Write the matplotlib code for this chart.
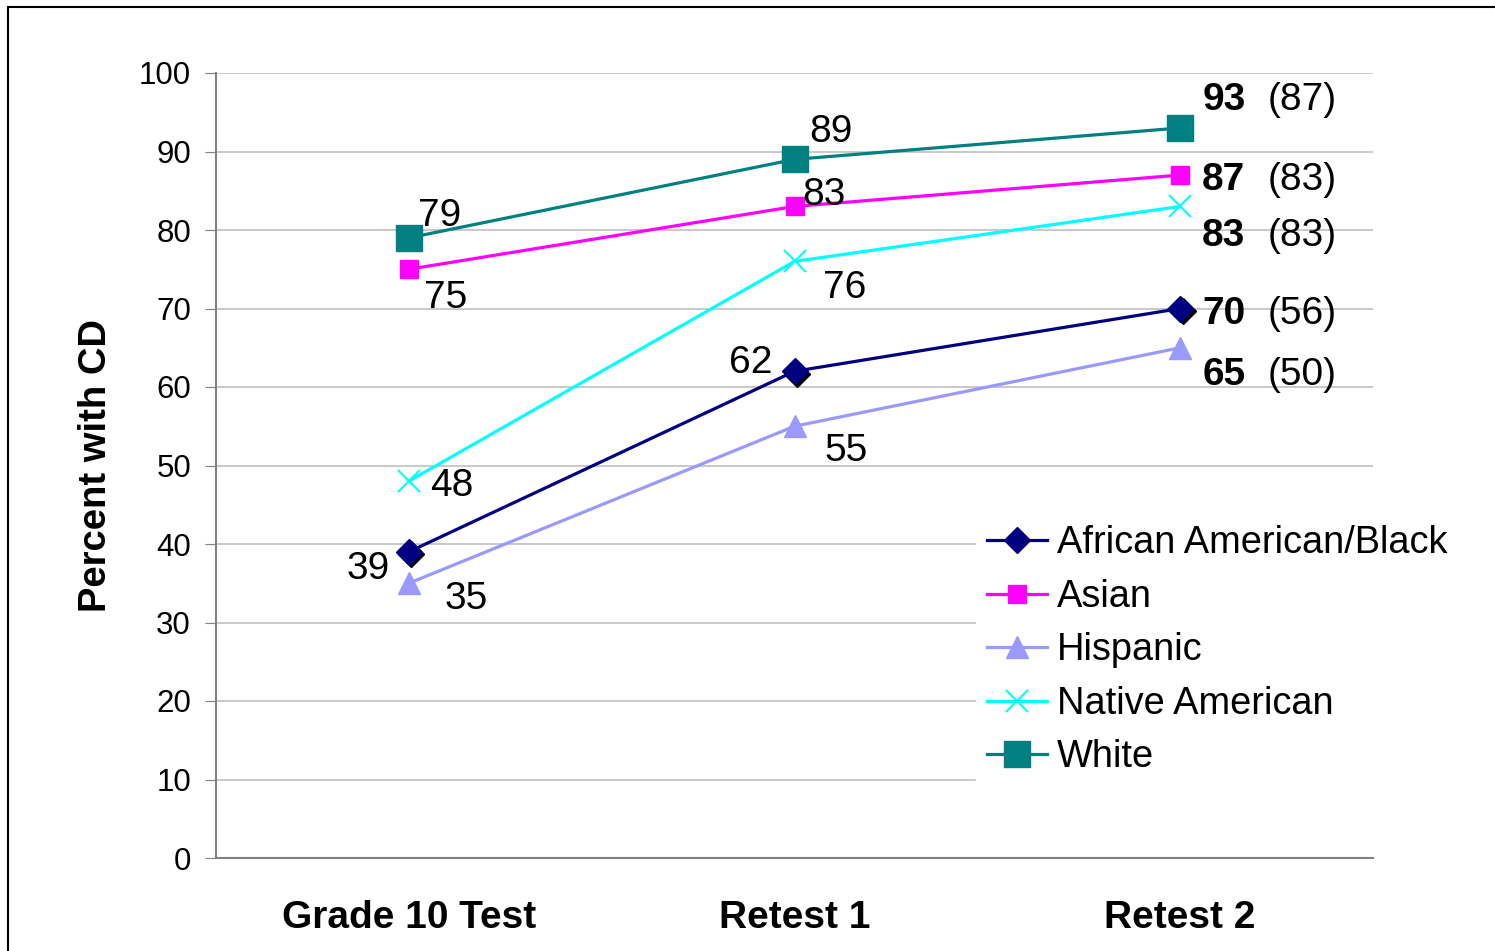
import matplotlib
matplotlib.use("Agg")
import matplotlib.pyplot as plt
import matplotlib.transforms as mtransforms
from matplotlib.patches import Rectangle

plt.rcParams['font.family'] = ['Liberation Sans', 'DejaVu Sans']

# data
categories = ["Grade 10 Test", "Retest 1", "Retest 2"]
groups = ["African American/Black", "Asian", "Hispanic", "Native American", "White"]
african = [39, 62, 70]
asian = [75, 83, 87]
hispanic = [35, 55, 65]
native = [48, 76, 83]
white = [79, 89, 93]
prior = [56, 83, 50, 83, 87]  # values in brackets at Retest 2

series = [african, asian, hispanic, native, white]
colors = ["#000080", "#FF00FF", "#9999FF", "#00FFFF", "#008080"]
markers = ["D", "s", "^", "x", "s"]
msizes = [13, 13, 16, 16, 19]

# label centre offsets in pixels for first two points (x, y)
offsets = [
    [(-41, -12), (-44, 13)],   # african
    [(37, -24), (29, 16)],     # asian
    [(57, -11), (52, -20)],    # hispanic
    [(43, 0), (50, -22)],      # native
    [(31, 27), (36, 32)],      # white
]
# right-end label vertical offsets in pixels
end_dy = [-1, 0, -22, -25, 33]
half_h = 15  # half digit height in pixels, to place baseline

fig = plt.figure(figsize=(14.95, 9.51), dpi=100)
ax = fig.add_axes([216 / 1495, 1 - 858 / 951, (1373 - 216) / 1495, (858 - 73) / 951])

x = range(len(categories))
for i, s in enumerate(series):
    if markers[i] == "D":
        # dark shadow behind diamond markers
        shadow = ax.transData + mtransforms.ScaledTranslation(2.5 / 100, -2.5 / 100, fig.dpi_scale_trans)
        ax.plot(x, s, ls="none", marker="D", ms=msizes[i], mfc="black", mec="black",
                transform=shadow, zorder=3)
    ax.plot(x, s, color=colors[i], lw=2.3, marker=markers[i], ms=msizes[i],
            mfc=colors[i], mec=colors[i], mew=1.5 if markers[i] == "x" else 1,
            label=groups[i], zorder=3)
    for j in range(2):
        dx, dy = offsets[i][j]
        ax.annotate(str(s[j]), (j, s[j]), xytext=(dx, dy - half_h), textcoords="offset pixels",
                    ha="center", va="baseline", fontsize=28)
    ax.annotate(str(s[2]), (2, s[2]), xytext=(22, end_dy[i] - half_h), textcoords="offset pixels",
                ha="left", va="baseline", fontsize=28, fontweight="bold")
    ax.annotate("(%d)" % prior[i], (2, s[2]), xytext=(87, end_dy[i] - half_h), textcoords="offset pixels",
                ha="left", va="baseline", fontsize=28)

ax.set_xlim(-0.5, 2.5)
ax.set_ylim(0, 100)
ax.set_yticks(range(0, 101, 10))
ax.set_xticks(list(x))
ax.set_xticklabels(categories, fontsize=28, fontweight="bold")
ax.tick_params(axis="x", length=0, pad=30)
ax.tick_params(axis="y", labelsize=22.5, length=8, color="#808080", pad=10)
ax.grid(axis="y", color="#C0C0C0", lw=1.2)
ax.set_axisbelow(True)
for side in ["top", "right"]:
    ax.spines[side].set_visible(False)
for side in ["left", "bottom"]:
    ax.spines[side].set_color("#808080")
    ax.spines[side].set_linewidth(1.5)

ax.set_ylabel("Percent with CD", fontsize=27.5, fontweight="bold", labelpad=18)

leg = ax.legend(loc="upper left", bbox_to_anchor=(976 / 1495, 1 - 514 / 951),
                bbox_transform=fig.transFigure, frameon=True, fancybox=False,
                fontsize=27.4, handlelength=1.57, handletextpad=0.26, labelspacing=0.46,
                borderaxespad=0, borderpad=0.3)
leg.get_frame().set_edgecolor("white")
leg.get_frame().set_facecolor("white")
leg.get_frame().set_alpha(1)

# outer frame
fig.patches.append(Rectangle((8 / 1495, -0.1), 1.2, 1 - 7 / 951 + 0.1, transform=fig.transFigure,
                             fill=False, edgecolor="black", lw=1.5))

fig.savefig("out.png", dpi=100)
